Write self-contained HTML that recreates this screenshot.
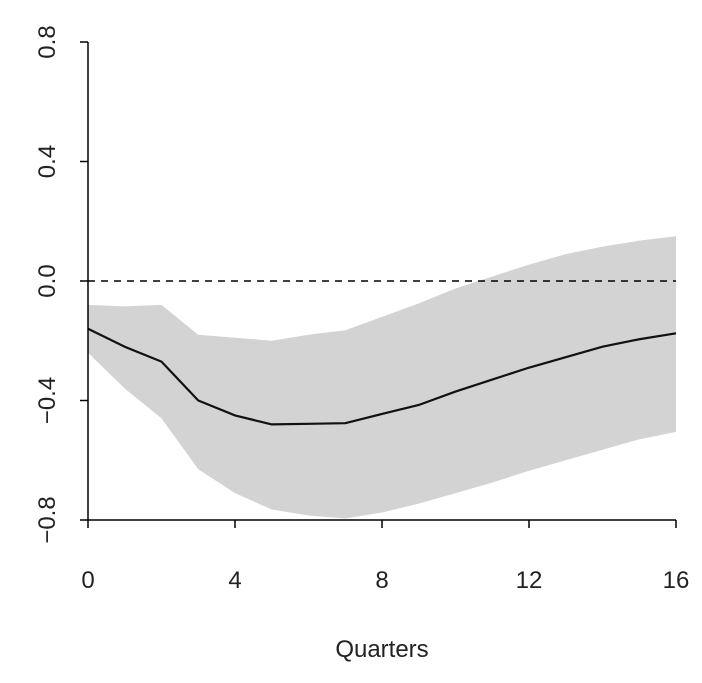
<!DOCTYPE html>
<html><head><style>body{margin:0;background:#fff}svg{display:block}text{font-family:"Liberation Sans",sans-serif;font-size:24px;fill:#222}</style></head>
<body>
<svg id="s" width="702" height="683" xmlns="http://www.w3.org/2000/svg">
<polygon id="band" fill="#d3d3d3"/>
<line x1="88" y1="281" x2="676" y2="281" stroke="#000" stroke-width="1.5" stroke-dasharray="7,6"/>
<polyline id="ln" fill="none" stroke="#111" stroke-width="2.2"/>
<g stroke="#000" stroke-width="1.5">
<line x1="88" y1="42" x2="88" y2="520"/>
<line x1="88" y1="520" x2="676" y2="520"/>
<line x1="80" y1="42" x2="88" y2="42"/><line x1="80" y1="161.5" x2="88" y2="161.5"/><line x1="80" y1="281" x2="88" y2="281"/><line x1="80" y1="400.5" x2="88" y2="400.5"/><line x1="80" y1="520" x2="88" y2="520"/>
<line x1="88" y1="520" x2="88" y2="528"/><line x1="235" y1="520" x2="235" y2="528"/><line x1="382" y1="520" x2="382" y2="528"/><line x1="529" y1="520" x2="529" y2="528"/><line x1="676" y1="520" x2="676" y2="528"/>
</g>
<g text-anchor="middle">
<text x="88" y="588">0</text><text x="235" y="588">4</text><text x="382" y="588">8</text><text x="529" y="588">12</text><text x="676" y="588">16</text>
<text x="382" y="657">Quarters</text>
<text transform="translate(55,42) rotate(-90)">0.8</text>
<text transform="translate(55,161.5) rotate(-90)">0.4</text>
<text transform="translate(55,281) rotate(-90)">0.0</text>
<text transform="translate(55,400.5) rotate(-90)">−0.4</text>
<text transform="translate(55,520) rotate(-90)">−0.8</text>
</g>
</svg>
<script>
var X=function(x){return 88+36.75*x},Y=function(v){return 281-298.75*v};
var m=[-0.16,-0.22,-0.27,-0.40,-0.45,-0.48,-0.478,-0.476,-0.445,-0.415,-0.37,-0.33,-0.29,-0.255,-0.22,-0.195,-0.175];
var u=[-0.08,-0.085,-0.08,-0.18,-0.19,-0.20,-0.18,-0.165,-0.12,-0.075,-0.025,0.015,0.055,0.09,0.115,0.135,0.15];
var l=[-0.24,-0.36,-0.46,-0.63,-0.71,-0.765,-0.785,-0.795,-0.775,-0.745,-0.71,-0.675,-0.635,-0.6,-0.565,-0.53,-0.505];
var p=[],b=[];
for(var i=0;i<=16;i++){p.push(X(i)+","+Y(m[i]));b.push(X(i)+","+Y(u[i]));}
for(var i=16;i>=0;i--){b.push(X(i)+","+Y(l[i]));}
document.getElementById("ln").setAttribute("points",p.join(" "));
document.getElementById("band").setAttribute("points",b.join(" "));
</script>
</body></html>
